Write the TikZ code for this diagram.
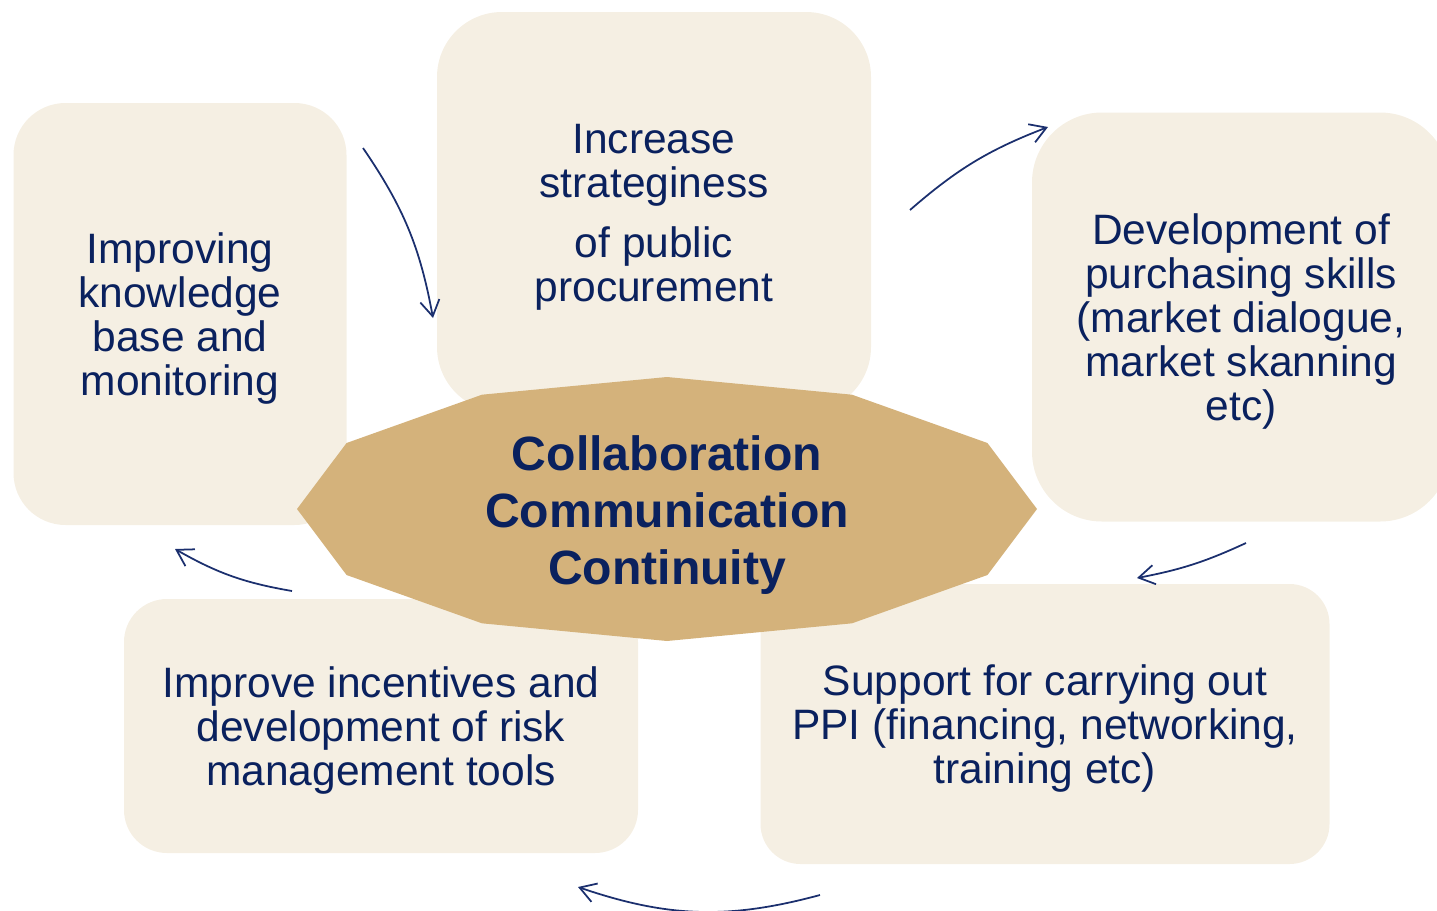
\documentclass[tikz,border=0pt]{standalone}
\usepackage{fontspec}
\setmainfont{Liberation Sans}
\definecolor{cream}{HTML}{F5EFE3}
\definecolor{gold}{HTML}{D4B27B}
\definecolor{navy}{HTML}{0A215E}
\definecolor{arrowblue}{HTML}{1B2F6E}
\usetikzlibrary{arrows.meta}
\newcommand{\cardstrut}{\rule{0pt}{0.93em}}
\tikzset{
  card/.style={
    fill=cream, rounded corners={#1*0.02cm}, align=center, text=navy,
    font=\fontsize{24.2}{25}\selectfont, inner sep=0pt
  },
  card/.default=60,
  hubtext/.style={
    align=center, text=navy, font=\fontsize{27.4}{32.5}\selectfont\bfseries
  },
  cyc/.style={-{Straight Barb[length=9pt,width=11pt,line width=1pt]},
    line width=1pt, color=arrowblue},
}

\begin{document}
\begin{tikzpicture}[x=0.02cm, y=-0.02cm]
    \useasboundingbox (0,0) rectangle (1437,910);
    \clip (0,0) rectangle (1437,910);

    % surrounding cards
    \node[card=65, minimum width={434*0.02cm}, minimum height={400*0.02cm}] (strategy) at (654,212)
      {\cardstrut Increase\\strateginess\\[0.32cm]of public\\procurement};
    \node[card=52, minimum width={333*0.02cm}, minimum height={422*0.02cm}] (knowledge) at (180,314)
      {\cardstrut Improving\\knowledge\\base and\\monitoring};
    \node[card=70, minimum width={418*0.02cm}, minimum height={409*0.02cm}] (skills) at (1241,317)
      {\cardstrut Development of\\purchasing skills\\(market dialogue,\\market skanning\\etc)};
    \node[card=43, minimum width={514*0.02cm}, minimum height={254*0.02cm}] (incentives) at (381,726)
      {\cardstrut Improve incentives and\\development of risk\\management tools};
    \node[card=40, minimum width={569*0.02cm}, minimum height={280*0.02cm}] (support) at (1045,724)
      {\cardstrut Support for carrying out\\PPI (financing, networking,\\training etc)};

    % central dodecagon
    \fill[gold] (1037,509) \foreach \a in {30,60,...,330}{
      -- ({667+370*cos(\a)},{509+132*sin(\a)}) } -- cycle;
    \node[hubtext] (hub) at (667,515)
      {Collaboration\\Communication\\Continuity};

    % cycle arrows
    \coordinate (k2s) at (363,148);  \coordinate (k2e) at (433,318);
    \coordinate (s2s) at (910,210);  \coordinate (s2e) at (1048,127);
    \coordinate (p2s) at (1246,543); \coordinate (p2e) at (1137,578);
    \coordinate (i2s) at (820,895);  \coordinate (i2e) at (578,887);
    \coordinate (n2s) at (292,591);  \coordinate (n2e) at (175,549);

    \draw[cyc] (k2s) to[bend left=12] (k2e);
    \draw[cyc] (s2s) to[bend left=10] (s2e);
    \draw[cyc] (p2s) to[bend left=7] (p2e);
    \draw[cyc] (i2s) to[bend left=17] (i2e);
    \draw[cyc] (n2s) to[bend left=10] (n2e);
\end{tikzpicture}
\end{document}
